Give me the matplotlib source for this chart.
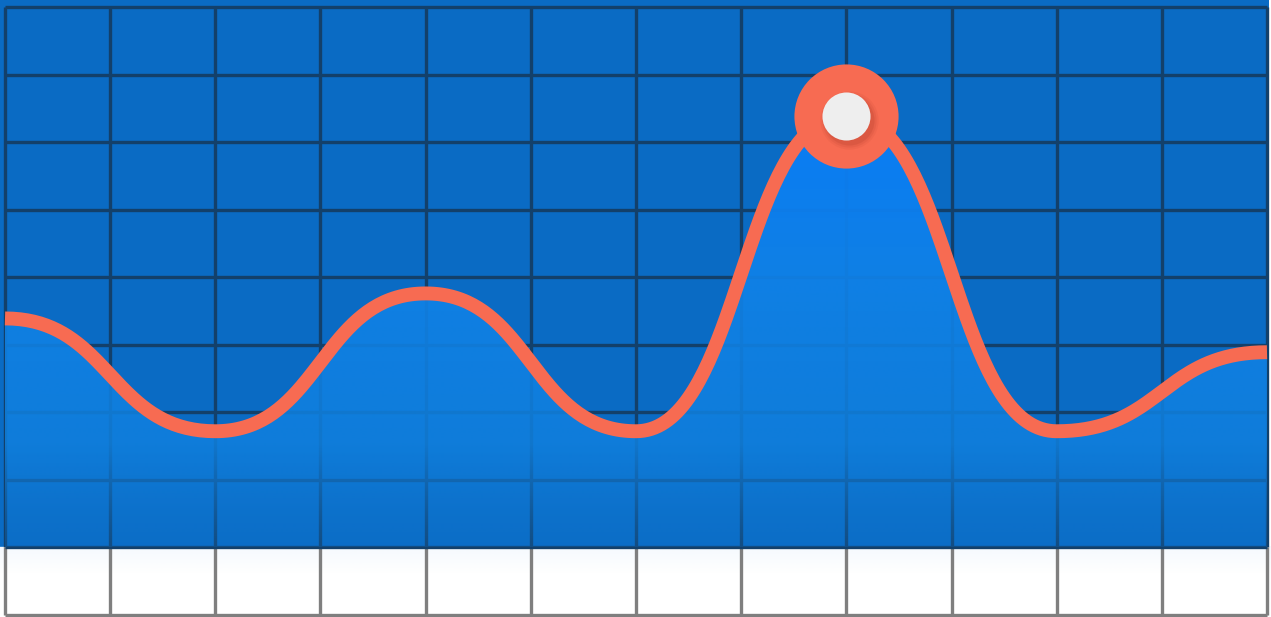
"""Smooth area line on a blue grid with a highlighted peak."""

import numpy as np
import matplotlib.pyplot as plt
from matplotlib.path import Path
from matplotlib.patches import PathPatch, Rectangle
from matplotlib import transforms

# grid cells: 12 columns, 9 rows (bottom row is the white strip)
n_cols = 12
n_rows = 9

# curve values, one every second column
point_cols = [0, 2, 4, 6, 8, 10, 12]
point_vals = [4.39, 2.72, 4.76, 2.72, 7.39, 2.72, 3.89]
peak_index = 4

BG_BLUE = "#0a6bc4"
GRID_DARK = "#13406a"
GRID_GRAY = "#7f7f7f"
LINE_RED = "#f76b52"
DOT_FILL = "#eeeeee"


def smooth_curve(xs, ys, steps=80):
    # cubic segments with flat tangents at every point
    out_x, out_y = [], []
    for i in range(len(xs) - 1):
        x0, x1 = xs[i], xs[i + 1]
        y0, y1 = ys[i], ys[i + 1]
        d = x1 - x0
        t = np.linspace(0, 1, steps)
        px = [x0, x0 + d / 2, x1 - d / 2, x1]
        py = [y0, y0, y1, y1]
        bx = ((1 - t) ** 3 * px[0] + 3 * (1 - t) ** 2 * t * px[1]
              + 3 * (1 - t) * t ** 2 * px[2] + t ** 3 * px[3])
        by = ((1 - t) ** 3 * py[0] + 3 * (1 - t) ** 2 * t * py[1]
              + 3 * (1 - t) * t ** 2 * py[2] + t ** 3 * py[3])
        if i > 0:
            bx, by = bx[1:], by[1:]
        out_x.extend(bx)
        out_y.extend(by)
    return np.array(out_x), np.array(out_y)


fig = plt.figure(figsize=(12.71, 6.17), dpi=100)
fig.patch.set_facecolor("white")
ax = fig.add_axes([0, 0, 1, 1])
ax.set_axis_off()

x_lo, x_hi = -0.0475, n_cols + 0.038
y_lo, y_hi = -0.03, n_rows + 0.104
ax.set_xlim(x_lo, x_hi)
ax.set_ylim(y_lo, y_hi)

# blue panel over the top 8 rows
ax.add_patch(Rectangle((x_lo, 1), x_hi - x_lo - 0.02, y_hi - 1,
                       facecolor=BG_BLUE, edgecolor="none", zorder=0))

# faint blue glow under the panel
glow = np.zeros((60, 2, 4))
glow[..., 0] = 210 / 255
glow[..., 1] = 230 / 255
glow[..., 2] = 250 / 255
glow[..., 3] = np.linspace(0.0, 0.22, 60)[:, None]
ax.imshow(glow, extent=(x_lo, x_hi, 0.6, 1), origin="lower",
          aspect="auto", zorder=0.5, interpolation="bilinear")

# grid
for c in range(n_cols + 1):
    ax.plot([c, c], [1, n_rows], color=GRID_DARK, lw=2.4, zorder=1,
            solid_capstyle="butt")
    ax.plot([c, c], [0, 1], color=GRID_GRAY, lw=2.4, zorder=1,
            solid_capstyle="butt")
for r in range(1, n_rows + 1):
    ax.plot([0, n_cols], [r, r], color=GRID_DARK, lw=2.4, zorder=1,
            solid_capstyle="butt")
ax.plot([0, n_cols], [0, 0], color=GRID_GRAY, lw=2.4, zorder=1,
        solid_capstyle="butt")

cx, cy = smooth_curve(point_cols, point_vals)

# gradient area under the curve
stops_v = [1.0, 2.5, 5.0, 7.6]
stops_r = [16, 16, 16, 10]
stops_g = [118, 128, 130, 124]
stops_b = [208, 222, 232, 248]
stops_a = [0.25, 0.85, 0.93, 1.0]
hgt = 300
vv = np.linspace(1, max(point_vals) + 0.2, hgt)
grad = np.zeros((hgt, 2, 4))
grad[..., 0] = (np.interp(vv, stops_v, stops_r) / 255)[:, None]
grad[..., 1] = (np.interp(vv, stops_v, stops_g) / 255)[:, None]
grad[..., 2] = (np.interp(vv, stops_v, stops_b) / 255)[:, None]
grad[..., 3] = np.interp(vv, stops_v, stops_a)[:, None]
img = ax.imshow(grad, extent=(0, n_cols, 1, max(point_vals) + 0.2),
                origin="lower", aspect="auto", zorder=2,
                interpolation="bilinear")
area_verts = np.column_stack([np.r_[cx, cx[-1], cx[0]],
                              np.r_[cy, 1, 1]])
area = PathPatch(Path(area_verts), facecolor="none", edgecolor="none")
ax.add_patch(area)
img.set_clip_path(area)

# curve
ax.plot(cx, cy, color=LINE_RED, lw=10, solid_capstyle="butt",
        solid_joinstyle="round", zorder=3)

# peak marker
px, py = point_cols[peak_index], point_vals[peak_index]
ax.plot(px, py, "o", ms=75, color=LINE_RED, mec="none", zorder=4)
shadow_tf = transforms.offset_copy(ax.transData, fig=fig, x=3, y=-4,
                                   units="dots")
for ms, a in [(42, 0.10), (39, 0.15), (36, 0.25)]:
    ax.plot(px, py, "o", ms=ms, color="#b8432f", mec="none", alpha=a,
            transform=shadow_tf, zorder=5)
ax.plot(px, py, "o", ms=34.6, color=DOT_FILL, mec="none", zorder=6)

fig.savefig("out.png", dpi=100)
plt.close(fig)
